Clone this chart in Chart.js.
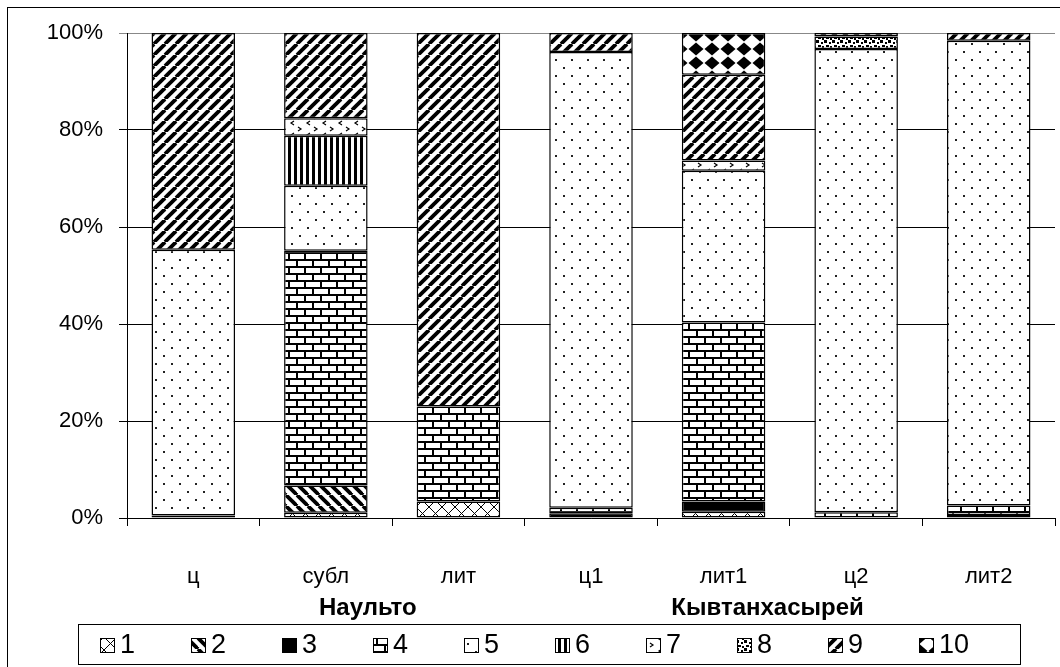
<!DOCTYPE html>
<html>
<head>
<meta charset="utf-8">
<script src="https://cdn.jsdelivr.net/npm/chart.js@4/dist/chart.umd.min.js"></script>
<style>
  html, body { margin: 0; padding: 0; background: #fff; }
  #wrap { width: 1060px; height: 667px; position: relative; }
</style>
</head>
<body>
<div id="wrap"><canvas id="chart"></canvas></div>
<script>
// categories and groups
const categories = ['ц', 'субл', 'лит', 'ц1', 'лит1', 'ц2', 'лит2'];
const groupNames = ['Наульто', 'Кывтанхасырей'];
const seriesNames = ['1', '2', '3', '4', '5', '6', '7', '8', '9', '10'];
const yTicks = [0, 20, 40, 60, 80, 100];

// percent shares per bar
const s1  = [0,    1.1,  3.4,  0,    1.3,  0,    0];
const s2  = [0,    5.6,  0,    0,    0,    0,    0];
const s3  = [0.5,  0,    0,    1.0,  2.1,  0,    0.6];
const s4  = [0,    48.4, 19.6, 1.1,  36.9, 1.2,  2.0];
const s5  = [54.8, 13.4, 0,    94.0, 31.3, 95.5, 95.8];
const s6  = [0,    10.3, 0,    0,    0,    0,    0];
const s7  = [0,    3.6,  0,    0,    2.1,  0,    0];
const s8  = [0,    0,    0,    0,    0,    2.6,  0];
const s9  = [44.7, 17.6, 77.0, 3.9,  17.7, 0.7,  1.6];
const s10 = [0,    0,    0,    0,    8.6,  0,    0];
const allSeries = [s1, s2, s3, s4, s5, s6, s7, s8, s9, s10];

const FONT = '"Liberation Sans", Arial, sans-serif';

// --- hatch patterns (black on white, like the old Excel fills)
function tile(w, h, draw) {
  const c = document.createElement('canvas');
  c.width = w; c.height = h;
  const g = c.getContext('2d');
  g.fillStyle = '#fff';
  g.fillRect(0, 0, w, h);
  g.fillStyle = '#000';
  g.strokeStyle = '#000';
  draw(g, w, h);
  return c.getContext('2d').createPattern(c, 'repeat');
}

function diag(g, w, h, lw, up) {
  g.lineWidth = lw;
  for (let k = -1; k <= 1; k++) {
    g.beginPath();
    if (up) { g.moveTo(k * w, h); g.lineTo(k * w + w, 0); }
    else { g.moveTo(k * w, 0); g.lineTo(k * w + w, h); }
    g.stroke();
  }
}

const patterns = [
  // 1 crosses
  tile(13, 13, (g, w, h) => { diag(g, w, h, 1, true); diag(g, w, h, 1, false); }),
  // 2 wide downward diagonal
  tile(11, 11, (g, w, h) => diag(g, w, h, 3.8, false)),
  // 3 solid
  '#000',
  // 4 bricks
  tile(16, 14, (g) => {
    g.fillRect(0, 0, 16, 2);
    g.fillRect(0, 7, 16, 2);
    g.fillRect(0, 0, 2, 7);
    g.fillRect(8, 7, 2, 7);
  }),
  // 5 sparse dots
  tile(16, 16, (g) => {
    g.fillStyle = '#222';
    g.fillRect(3, 3, 2, 2);
    g.fillRect(11, 11, 2, 2);
  }),
  // 6 vertical bars
  tile(6, 6, (g) => g.fillRect(0, 0, 3, 6)),
  // 7 confetti
  tile(16, 12, (g) => {
    g.lineWidth = 1.2;
    g.beginPath(); g.moveTo(6, 1); g.lineTo(3, 3); g.lineTo(6, 5); g.stroke();
    g.beginPath(); g.moveTo(10, 7); g.lineTo(13, 9); g.lineTo(10, 11); g.stroke();
  }),
  // 8 dense spots
  tile(8, 8, (g) => {
    g.fillRect(0, 0, 3, 3);
    g.fillRect(5, 2, 2, 2);
    g.fillRect(2, 5, 3, 2);
    g.fillRect(6, 6, 2, 2);
  }),
  // 9 wide upward diagonal
  tile(11, 11, (g, w, h) => diag(g, w, h, 3.8, true)),
  // 10 diamonds
  tile(16, 14, (g) => {
    g.beginPath();
    g.moveTo(8, 0.5); g.lineTo(15.5, 7); g.lineTo(8, 13.5); g.lineTo(0.5, 7);
    g.closePath(); g.fill();
  })
];

const datasets = allSeries.map((vals, i) => ({
  label: seriesNames[i],
  data: vals.map(v => v || null),
  backgroundColor: patterns[i],
  borderColor: '#000',
  borderWidth: 1.5,
  borderSkipped: false,
  barPercentage: 0.63,
  categoryPercentage: 1.0
}));

// draws outer frame, group captions and the boxed legend
const extrasPlugin = {
  id: 'extras',
  afterDraw(chart) {
    const ctx = chart.ctx;
    const x = chart.scales.x;
    ctx.save();
    ctx.strokeStyle = '#000';
    ctx.lineWidth = 1;
    ctx.strokeRect(7.5, 7.5, 1060, 670);

    // group captions under category labels
    ctx.fillStyle = '#000';
    ctx.font = 'bold 24px ' + FONT;
    ctx.textAlign = 'center';
    ctx.textBaseline = 'middle';
    ctx.fillText(groupNames[0], x.getPixelForValue(1) + 42, 608);
    ctx.fillText(groupNames[1], x.getPixelForValue(4) + 44, 608);

    // legend box
    ctx.strokeRect(78.5, 624.5, 942, 40);
    ctx.font = '27px ' + FONT;
    ctx.textAlign = 'left';
    chart.data.datasets.forEach((ds, i) => {
      const lx = 100 + i * 91;
      const ly = 638;
      ctx.fillStyle = ds.backgroundColor;
      ctx.fillRect(lx, ly, 14, 14);
      ctx.strokeRect(lx + 0.5, ly + 0.5, 14, 14);
      ctx.fillStyle = '#000';
      ctx.fillText(ds.label, lx + 20, 646);
    });
    ctx.restore();
  }
};

new Chart(document.getElementById('chart'), {
  type: 'bar',
  data: { labels: categories, datasets },
  plugins: [extrasPlugin],
  options: {
    responsive: true,
    maintainAspectRatio: false,
    animation: false,
    layout: { padding: { top: 33, right: 5, bottom: 45, left: 27 } },
    plugins: { legend: { display: false }, tooltip: { enabled: false } },
    scales: {
      x: {
        stacked: true,
        afterFit: (s) => { s.height = 104; },
        grid: { drawOnChartArea: false, offset: true, tickLength: 8, color: '#000', lineWidth: 1 },
        border: { color: '#000', width: 1 },
        ticks: { color: '#000', padding: 38, font: { family: FONT, size: 22 } }
      },
      y: {
        stacked: true,
        min: 0,
        max: 100,
        afterFit: (s) => { s.width = 100; },
        afterBuildTicks: (s) => { s.ticks = yTicks.map(v => ({ value: v })); },
        grid: {
          tickLength: 8,
          color: (c) => (c.tick && c.tick.value === 100 ? '#888' : '#000'),
          lineWidth: 1
        },
        border: { color: '#000', width: 1 },
        ticks: {
          color: '#000',
          padding: 16,
          callback: (v) => v + '%',
          font: { family: FONT, size: 22 }
        }
      }
    }
  }
});
</script>
</body>
</html>
